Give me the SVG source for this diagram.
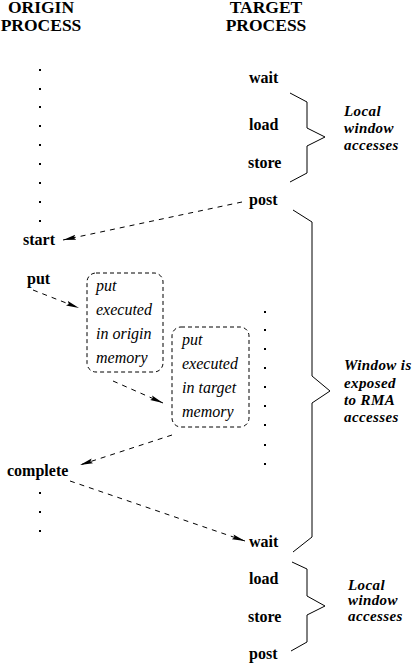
<svg xmlns="http://www.w3.org/2000/svg" width="412" height="664" viewBox="0 0 412 664">
<style>
text{font-family:"Liberation Serif","DejaVu Serif","Times New Roman",Times,serif}
.hd{font-weight:bold;font-size:17.5px;text-anchor:middle}
.ev{font-weight:bold;font-size:16px}
.bx{font-style:italic;font-size:16px}
.sd{font-style:italic;font-weight:bold;font-size:15px;letter-spacing:0.4px}
.dot{fill:#000}
.brace{fill:none;stroke:#000;stroke-width:1}
.box{fill:none;stroke:#000;stroke-width:1;stroke-dasharray:4 3}
.arr{fill:none;stroke:#000;stroke-width:1;stroke-dasharray:5 5;marker-end:url(#ah)}
</style>
<defs>
<marker id="ah" markerUnits="userSpaceOnUse" markerWidth="14" markerHeight="6" refX="13" refY="3" orient="auto">
<path d="M0,0.5 L13,3 L0,5.5 L2,3 z" fill="#000" stroke="none"/>
</marker>
</defs>
<rect width="412" height="664" fill="#fff"/>

<g id="origin-header" font-family="Liberation Serif, serif">
<text class="hd" x="41" y="13">ORIGIN</text>
<text class="hd" x="41" y="31">PROCESS</text>
</g>
<g id="target-header" font-family="Liberation Serif, serif">
<text class="hd" x="266" y="13">TARGET</text>
<text class="hd" x="266" y="31">PROCESS</text>
</g>

<g id="origin-dots-top">
<rect class="dot" x="39" y="69" width="2" height="2"/>
<rect class="dot" x="39" y="88" width="2" height="2"/>
<rect class="dot" x="39" y="106" width="2" height="2"/>
<rect class="dot" x="39" y="125" width="2" height="2"/>
<rect class="dot" x="39" y="144" width="2" height="2"/>
<rect class="dot" x="39" y="163" width="2" height="2"/>
<rect class="dot" x="39" y="182" width="2" height="2"/>
<rect class="dot" x="39" y="201" width="2" height="2"/>
<rect class="dot" x="39" y="220" width="2" height="2"/>
</g>

<g id="start"><text class="ev" x="23" y="245">start</text></g>
<g id="put"><text class="ev" x="27" y="284">put</text></g>
<g id="complete"><text class="ev" x="7" y="476">complete</text></g>

<g id="origin-dots-bottom">
<rect class="dot" x="39" y="492" width="2" height="2"/>
<rect class="dot" x="39" y="511" width="2" height="2"/>
<rect class="dot" x="39" y="530" width="2" height="2"/>
</g>

<g id="box-origin">
<rect class="box" x="87" y="273" width="76" height="99" rx="9" ry="9"/>
<text class="bx" x="96" y="291">put</text>
<text class="bx" x="96" y="315">executed</text>
<text class="bx" x="96" y="339">in origin</text>
<text class="bx" x="96" y="363">memory</text>
</g>

<g id="box-target">
<rect class="box" x="172" y="327" width="77" height="100" rx="9" ry="9"/>
<text class="bx" x="182" y="345">put</text>
<text class="bx" x="182" y="369">executed</text>
<text class="bx" x="182" y="393">in target</text>
<text class="bx" x="182" y="417">memory</text>
</g>

<g id="target-dots">
<rect class="dot" x="264" y="311" width="2" height="2"/>
<rect class="dot" x="264" y="329" width="2" height="2"/>
<rect class="dot" x="264" y="348" width="2" height="2"/>
<rect class="dot" x="264" y="367" width="2" height="2"/>
<rect class="dot" x="264" y="386" width="2" height="2"/>
<rect class="dot" x="264" y="405" width="2" height="2"/>
<rect class="dot" x="264" y="424" width="2" height="2"/>
<rect class="dot" x="264" y="444" width="2" height="2"/>
<rect class="dot" x="264" y="463" width="2" height="2"/>
</g>

<g id="wait1"><text class="ev" x="249" y="83">wait</text></g>
<g id="load1"><text class="ev" x="249" y="130">load</text></g>
<g id="store1"><text class="ev" x="248" y="168">store</text></g>
<g id="post1"><text class="ev" x="249" y="205">post</text></g>

<g id="wait2"><text class="ev" x="249" y="547">wait</text></g>
<g id="load2"><text class="ev" x="249" y="584">load</text></g>
<g id="store2"><text class="ev" x="248" y="622">store</text></g>
<g id="post2"><text class="ev" x="249" y="659">post</text></g>

<g id="brace-local1">
<polyline class="brace" points="290,93 307,102 307,128 325,137 307,146 307,173 290,182"/>
<text class="sd" x="344" y="116">Local</text>
<text class="sd" x="344" y="133">window</text>
<text class="sd" x="344" y="150">accesses</text>
</g>

<g id="brace-exposed">
<polyline class="brace" points="293,210 312,222 312,376 330,391 312,403 312,537 293,552"/>
<text class="sd" x="344" y="370">Window is</text>
<text class="sd" x="344" y="388">exposed</text>
<text class="sd" x="344" y="405">to RMA</text>
<text class="sd" x="344" y="422">accesses</text>
</g>

<g id="brace-local2">
<polyline class="brace" points="292,562 307,569 307,596 325,606 307,615 307,642 291,651"/>
<text class="sd" x="348" y="590">Local</text>
<text class="sd" x="348" y="605">window</text>
<text class="sd" x="348" y="621">accesses</text>
</g>

<g id="connectors">
<line class="arr" x1="242" y1="202" x2="63" y2="240"/>
<line class="arr" x1="33" y1="290" x2="79" y2="308"/>
<line class="arr" x1="113" y1="381" x2="163" y2="403"/>
<line class="arr" x1="172" y1="435" x2="80" y2="465"/>
<line class="arr" x1="70" y1="481" x2="245" y2="541"/>
</g>
</svg>
